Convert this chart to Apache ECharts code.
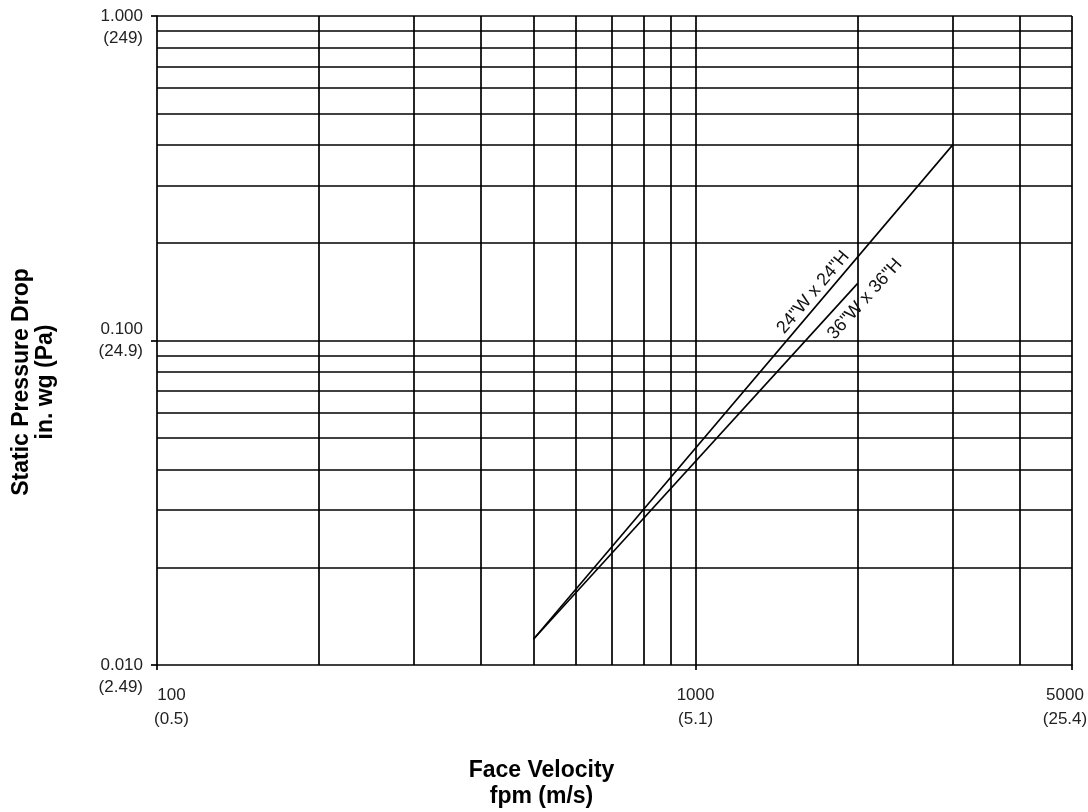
<!DOCTYPE html>
<html><head><meta charset="utf-8">
<script src="https://cdn.jsdelivr.net/npm/echarts@6/dist/echarts.min.js"></script>
<style>html,body{margin:0;padding:0;background:#fff}#c{width:1088px;height:812px}</style>
</head><body><div id="c"></div>
<script>
// ---- data ----
const series24Name = '24"W x 24"H';
const series36Name = '36"W x 36"H';
const velocity24 = [500, 3000];
const pressure24 = [0.012, 0.4];
const velocity36 = [500, 2000];
const pressure36 = [0.012, 0.15];
const xTickValues = [100, 1000, 5000];
const xTickTop = ['100', '1000', '5000'];
const xTickBottom = ['(0.5)', '(5.1)', '(25.4)'];
const yTickValues = [0.01, 0.1, 1];
const yTickTop = ['0.010', '0.100', '1.000'];
const yTickBottom = ['(2.49)', '(24.9)', '(249)'];
const xGridValues = [200, 300, 400, 500, 600, 700, 800, 900, 1000, 2000, 3000, 4000, 5000];
const yGridValues = [0.02, 0.03, 0.04, 0.05, 0.06, 0.07, 0.08, 0.09, 0.1,
                     0.2, 0.3, 0.4, 0.5, 0.6, 0.7, 0.8, 0.9, 1.0];
const label24At = [1654, 0.1408];
const label36At = [2063, 0.1342];
const xAxisName = 'Face Velocity\nfpm (m/s)';
const yAxisName = 'Static Pressure Drop\nin. wg (Pa)';

function findIdx(arr, v) {
  for (let i = 0; i < arr.length; i++) if (Math.abs(arr[i] - v) / arr[i] < 1e-6) return i;
  return -1;
}

const chart = echarts.init(document.getElementById('c'), null, {renderer: 'canvas'});
const lineColor = '#000';
const gridLW = 1.7;
const font = 'Liberation Sans, Arial, Helvetica, sans-serif';

const option = {
  animation: false,
  backgroundColor: '#fff',
  grid: {left: 157, right: 16, top: 16, bottom: 147, containLabel: false, outerBoundsMode: 'none'},
  xAxis: {
    type: 'log', logBase: 10, min: 100, max: 5000,
    name: xAxisName, nameLocation: 'middle', nameGap: 93,
    nameTextStyle: {fontFamily: font, fontSize: 23, fontWeight: 'bold', color: '#000',
      lineHeight: 26, padding: [0, 146, 0, 0]},
    axisLine: {show: true, lineStyle: {color: lineColor, width: gridLW}},
    axisTick: {show: true, customValues: xTickValues, length: 5, inside: false,
      lineStyle: {color: lineColor, width: gridLW}},
    splitLine: {show: false},
    minorTick: {show: false}, minorSplitLine: {show: false},
    axisLabel: {
      customValues: xTickValues, margin: 18, showMinLabel: true, showMaxLabel: true,
      fontFamily: font, fontSize: 17, color: '#222', lineHeight: 24,
      formatter: function (v) {
        const i = findIdx(xTickValues, v);
        if (i < 0) return '';
        const style = i === 0 ? 'l' : (i === xTickValues.length - 1 ? 'r' : 'c');
        return '{' + style + '|' + xTickTop[i] + '}\n{' + style + '|' + xTickBottom[i] + '}';
      },
      rich: {
        l: {fontFamily: font, fontSize: 17, color: '#222', lineHeight: 24, padding: [0, 0, 0, 29]},
        c: {fontFamily: font, fontSize: 17, color: '#222', lineHeight: 24},
        r: {fontFamily: font, fontSize: 17, color: '#222', lineHeight: 24, padding: [0, 14, 0, 0]}
      }
    }
  },
  yAxis: {
    type: 'log', logBase: 10, min: 0.01, max: 1,
    name: yAxisName, nameLocation: 'middle', nameGap: 99, nameRotate: 90,
    nameTextStyle: {fontFamily: font, fontSize: 23, fontWeight: 'bold', color: '#000',
      lineHeight: 24, padding: [0, 83, 0, 0]},
    axisLine: {show: true, lineStyle: {color: lineColor, width: gridLW}},
    axisTick: {show: true, customValues: yTickValues, length: 6, inside: false,
      lineStyle: {color: lineColor, width: gridLW}},
    splitLine: {show: false},
    minorTick: {show: false}, minorSplitLine: {show: false},
    axisLabel: {
      customValues: yTickValues, margin: 14, showMinLabel: true, showMaxLabel: true,
      fontFamily: font, fontSize: 17, color: '#222', lineHeight: 22, align: 'right',
      formatter: function (v) {
        const i = findIdx(yTickValues, v);
        if (i < 0) return '';
        if (i === 1) return yTickTop[i] + '\n' + yTickBottom[i];
        return ' \n' + yTickTop[i] + '\n' + yTickBottom[i];
      }
    }
  },
  series: [
    {
      type: 'line', name: 'grid', silent: true, data: [],
      markLine: {
        silent: true, symbol: ['none', 'none'], animation: false,
        label: {show: false},
        lineStyle: {color: lineColor, width: gridLW, type: 'solid'},
        emphasis: {disabled: true},
        data: xGridValues.map(v => ({xAxis: v})).concat(yGridValues.map(v => ({yAxis: v})))
      }
    },
    {
      type: 'line', name: series24Name, showSymbol: false, symbol: 'none',
      lineStyle: {color: lineColor, width: 1.6},
      data: velocity24.map((v, i) => [v, pressure24[i]]),
      markPoint: {
        symbol: 'circle', symbolSize: 0, silent: true,
        label: {show: true, position: 'inside', formatter: series24Name, rotate: 50,
          fontFamily: font, fontSize: 18, color: '#111'},
        data: [{coord: label24At}]
      }
    },
    {
      type: 'line', name: series36Name, showSymbol: false, symbol: 'none',
      lineStyle: {color: lineColor, width: 1.6},
      data: velocity36.map((v, i) => [v, pressure36[i]]),
      markPoint: {
        symbol: 'circle', symbolSize: 0, silent: true,
        label: {show: true, position: 'inside', formatter: series36Name, rotate: 48,
          fontFamily: font, fontSize: 18, color: '#111'},
        data: [{coord: label36At}]
      }
    }
  ]
};
chart.setOption(option);
</script>
</body></html>
